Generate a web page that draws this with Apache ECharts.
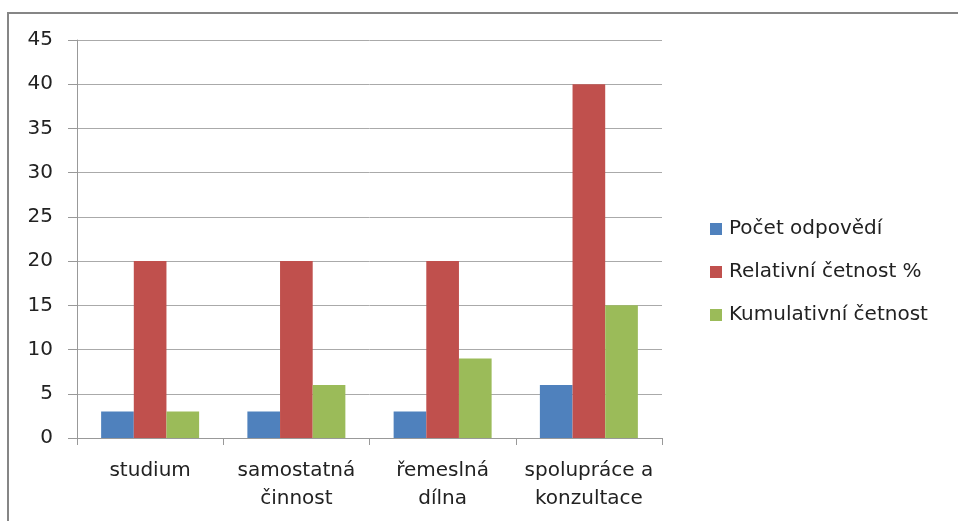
<!DOCTYPE html>
<html>
<head>
<meta charset="utf-8">
<script src="https://cdn.jsdelivr.net/npm/echarts@6/dist/echarts.min.js"></script>
<style>
  html, body { margin: 0; padding: 0; background: #fff; }
  #chart { width: 958px; height: 521px; }
</style>
</head>
<body>
<div id="chart"></div>
<script>
const categories = ['studium', 'samostatná\nčinnost', 'řemeslná\ndílna', 'spolupráce a\nkonzultace'];
const seriesNames = ['Počet odpovědí', 'Relativní četnost %', 'Kumulativní četnost'];
const pocetOdpovedi = [3, 3, 3, 6];
const relativniCetnost = [20, 20, 20, 40];
const kumulativniCetnost = [3, 6, 9, 15];
const colors = ['#4F81BD', '#C0504D', '#9BBB59'];

const chart = echarts.init(document.getElementById('chart'));
const font = '"DejaVu Sans", sans-serif';

const option = {
    animation: false,
    color: colors,
    textStyle: { fontFamily: font },
    graphic: [
        {
            type: 'rect',
            shape: { x: 8, y: 13, width: 1000, height: 600 },
            style: { fill: 'none', stroke: '#868686', lineWidth: 2 }
        }
    ],
    grid: { left: 77, right: 296, top: 40, bottom: 83 },
    legend: {
        orient: 'vertical',
        left: 705,
        top: 214,
        itemWidth: 12,
        itemHeight: 12,
        itemGap: 23,
        icon: 'rect',
        textStyle: { fontSize: 20, color: '#222', fontFamily: font, padding: [0, 0, 0, 2] },
        data: seriesNames
    },
    xAxis: {
        type: 'category',
        data: categories,
        axisLine: { lineStyle: { color: '#999' } },
        axisTick: { show: true, length: 7, lineStyle: { color: '#999' } },
        axisLabel: { interval: 0, fontSize: 20, color: '#222', margin: 19, lineHeight: 28, fontFamily: font }
    },
    yAxis: {
        type: 'value',
        min: 0,
        max: 45,
        interval: 5,
        axisLine: { show: true, lineStyle: { color: '#999' } },
        axisTick: { show: true, length: 9, lineStyle: { color: '#999' } },
        splitLine: { lineStyle: { color: '#aaa' } },
        axisLabel: { fontSize: 20, color: '#222', margin: 24, fontFamily: font }
    },
    series: [
        { name: seriesNames[0], type: 'bar', data: pocetOdpovedi, barGap: '0%', barCategoryGap: '33%' },
        { name: seriesNames[1], type: 'bar', data: relativniCetnost, barGap: '0%', barCategoryGap: '33%' },
        { name: seriesNames[2], type: 'bar', data: kumulativniCetnost, barGap: '0%', barCategoryGap: '33%' }
    ]
};

chart.setOption(option);
</script>
</body>
</html>
